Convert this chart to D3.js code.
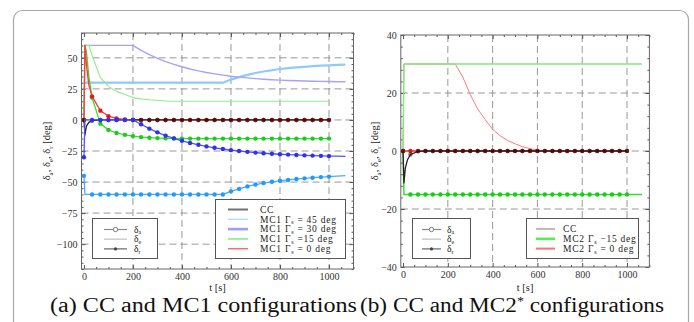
<!DOCTYPE html>
<html><head><meta charset="utf-8">
<script src="https://cdn.jsdelivr.net/npm/d3@7"></script>
<style>
html,body{margin:0;padding:0;background:#fff;}
svg{display:block;}
text{font-family:"Liberation Serif","DejaVu Serif",serif;}
</style></head><body>
<svg id="fig" width="694" height="322"></svg>
<script>
// sample times [s]
const time = [0,4,10,20,33,67,100,133,167,200,233,267,300,333,367,400,433,467,500,533,567,600,633,667,700,733,767,800,833,867,900,933,967,1000,1033,1067];

// panel (a): CC and MC1
const ccA      = [0,-12,-5,-2,-0.6,0,0,0,0,0, 0,0,0,0,0,0,0,0,0,0, 0,0,0,0,0,0,0,0,0,0, 0,0,0,0,null,null];
const mc1g45E  = [30,30,30,30,30,30,30,30,30,30, 30,30,30,30,30,30,30,30,30,30, 30,32.5,34.5,36.3,37.8,39,40,41,41.7,42.3, 42.8,43.3,43.7,44,44.3,44.6];
const mc1g45R  = [-45,-60,-60,-60,-60,-60,-60,-60,-60,-60, -60,-60,-60,-60,-60,-60,-60,-60,-60,-60, -60,-57.5,-55.5,-53.5,-52,-50.8,-49.8,-49,-48.3,-47.6, -47,-46.5,-46,-45.6,-45.2,-44.8];
const mc1g30E  = [60,60,60,60,60,60,60,60,60,60, 56,52.5,49.5,47,44.8,42.8,41,39.5,38.2,37.1, 36.1,35.2,34.5,33.9,33.3,32.8,32.4,32.1,31.8,31.6, 31.4,31.2,31.05,30.9,30.8,30.7];
const mc1g30R  = [-30,0,0,0,0,0,0,0,0,0, -3.5,-7,-10,-12.6,-14.8,-16.8,-18.5,-20,-21.3,-22.4, -23.4,-24.3,-25,-25.7,-26.3,-26.8,-27.2,-27.6,-27.9,-28.2, -28.5,-28.7,-28.9,-29.1,-29.2,-29.3];
const mc1g15E  = [0,60,60,60,52,34,27,23,20.5,18, 17,16.2,15.6,15.3,15.1,15,15,15,15,15, 15,15,15,15,15,15,15,15,15,15, 15,15,15,15,null,null];
const mc1g15R  = [0,60,55,35,18,-3,-8,-10.5,-12,-13, -13.8,-14.3,-14.6,-14.8,-14.9,-15,-15,-15,-15,-15, -15,-15,-15,-15,-15,-15,-15,-15,-15,-15, -15,-15,-15,-15,null,null];
const mc1g0R   = [0,60,45,28,19,7.5,3,1.2,0.5,0.2, 0.05,0,0,0,0,0,0,0,0,0, 0,0,0,0,0,0,0,0,0,0, 0,0,0,0,null,null];

// panel (b): CC and MC2*
const ccB      = [0,-11,-6,-3,-1.2,-0.1,0,0,0,0, 0,0,0,0,0,0,0,0,0,0, 0,0,0,0,0,0,0,0,0,0, 0,0,0,0,null,null];
const mc2g15E  = [0,30,30,30,30,30,30,30,30,30, 30,30,30,30,30,30,30,30,30,30, 30,30,30,30,30,30,30,30,30,30, 30,30,30,30,30,30];
const mc2g15R  = [0,-15,-15,-15,-15,-15,-15,-15,-15,-15, -15,-15,-15,-15,-15,-15,-15,-15,-15,-15, -15,-15,-15,-15,-15,-15,-15,-15,-15,-15, -15,-15,-15,-15,-15,-15];
const mc2g0E   = [0,30,30,30,30,30,30,30,30,30, 30,25.5,19.5,14.5,10.8,7.5,5.3,3.6,2.5,1.5, 0.8,0.3,0.1,0,0,0,0,0,0,0, 0,0,0,0,null,null];
const mc2g0R   = [0,0,0,0,0,0,0,0,0,0, 0,0,0,0,0,0,0,0,0,0, 0,0,0,0,0,0,0,0,0,0, 0,0,0,0,null,null];

// axis ticks
const xTicks = [0,200,400,600,800,1000];
const yTicksA = [50,25,0,-25,-50,-75,-100];
const yTicksB = [40,20,0,-20,-40];

// legend labels
const deltaLabels = ["a","e","r"];
const legendA = [["CC"],["MC1 Γ","s"," = 45 deg"],["MC1 Γ","s"," = 30 deg"],["MC1 Γ","s"," =15 deg"],["MC1 Γ","s"," = 0 deg"]];
const legendB = [["CC"],["MC2 Γ","s"," −15 deg"],["MC2 Γ","s"," = 0 deg"]];

const svg = d3.select("#fig");

// card outline
svg.append("rect").attr("x",13.5).attr("y",10.5).attr("width",675).attr("height",340)
  .attr("rx",9).attr("fill","none").attr("stroke","#a9a9a9").attr("stroke-width",1.2);

// text with a lowered subscript after the main part
function subText(sel, main, sub, rest, subSize, shift) {
  sel.append("tspan").text(main);
  sel.append("tspan").attr("dy",shift).style("font-size",subSize).text(sub);
  sel.append("tspan").attr("dy",-shift).text(rest);
}

function drawPanel(p, id) {
  const g = svg.append("g");
  const x = d3.scaleLinear().domain([-10,1100]).range([p.left,p.right]);
  const y = d3.scaleLinear().domain(p.yDomain).range([p.bottom,p.top]);

  g.append("clipPath").attr("id",id).append("rect")
    .attr("x",p.left).attr("y",p.top).attr("width",p.right-p.left).attr("height",p.bottom-p.top);

  // dashed grid
  const grid = g.append("g").attr("stroke","#8c8c8c").attr("stroke-width",0.9).attr("stroke-dasharray","7,4");
  grid.selectAll(".gx").data(xTicks.filter(v=>v>0)).join("line")
    .attr("x1",d=>x(d)).attr("x2",d=>x(d)).attr("y1",p.top).attr("y2",p.bottom);
  grid.selectAll(".gy").data(p.yTicks.filter(v=>v>p.yDomain[0]&&v<p.yDomain[1])).join("line")
    .attr("x1",p.left).attr("x2",p.right).attr("y1",d=>y(d)).attr("y2",d=>y(d));

  // axes, ticks pointing inwards on all four sides
  const xMinor = d3.range(0,1101,50).filter(v=>!xTicks.includes(v));
  const yMinor = d3.range(p.yDomain[0],p.yDomain[1]+0.001,p.yMinorStep).filter(v=>!p.yTicks.includes(v));
  const axes = [
    [d3.axisBottom, x, `translate(0,${p.bottom})`, true],
    [d3.axisTop, x, `translate(0,${p.top})`, false],
    [d3.axisLeft, y, `translate(${p.left},0)`, true],
    [d3.axisRight, y, `translate(${p.right},0)`, false]
  ];
  axes.forEach(([ax, sc, tr, labelled]) => {
    const isX = sc === x;
    const major = ax(sc).tickValues(isX ? xTicks : p.yTicks).tickSize(-4).tickPadding(4)
      .tickFormat(labelled ? d3.format("d") : "");
    const minor = ax(sc).tickValues(isX ? xMinor : yMinor).tickSize(-2).tickFormat("");
    const a1 = g.append("g").attr("transform",tr).call(major);
    const a2 = g.append("g").attr("transform",tr).call(minor);
    [a1,a2].forEach(a => { a.select(".domain").remove(); a.selectAll("line").attr("stroke","#555"); });
    a1.attr("font-family",null);
    a1.selectAll("text").attr("fill","#333").style("font-size","10px");
  });

  g.append("rect").attr("x",p.left).attr("y",p.top).attr("width",p.right-p.left).attr("height",p.bottom-p.top)
    .attr("fill","none").attr("stroke","#666").attr("stroke-width",1);

  // curves
  const plot = g.append("g").attr("clip-path",`url(#${id})`);
  p.series.forEach(s => {
    const pts = time.map((t,i)=>[t,s.v[i]]);
    const line = d3.line().defined(d=>d[1]!==null).x(d=>x(d[0])).y(d=>y(d[1]));
    plot.append("path").attr("d",line(pts)).attr("fill","none")
      .attr("stroke",s.c).attr("stroke-width",s.w).attr("stroke-linejoin","round");
    if (s.mark) {
      plot.append("g").selectAll("circle")
        .data(pts.filter((d,i)=>d[1]!==null && d[0]<=1000 && (i===0 || i>=4)))
        .join("circle").attr("cx",d=>x(d[0])).attr("cy",d=>y(d[1])).attr("r",2.2)
        .attr("fill",s.m).attr("fill-opacity",s.mo||1);
    }
  });

  // axis titles
  g.append("text").attr("x",(p.left+p.right)/2).attr("y",291).attr("text-anchor","middle")
    .style("font-size","10.5px").attr("fill","#222").text("t [s]");
  const yl = g.append("text").attr("transform",`translate(${p.yLabelX},${(p.top+p.bottom)/2}) rotate(-90)`)
    .attr("text-anchor","middle").style("font-size","10.5px").attr("fill","#222");
  deltaLabels.forEach((k,i)=> subText(yl, "δ", k, i<2 ? ", " : " [deg]", "7px", 2.5));

  // δ legend
  const d = p.deltaBox;
  const lg = g.append("g");
  lg.append("rect").attr("x",d.x).attr("y",d.y).attr("width",d.w).attr("height",d.h)
    .attr("fill","#fff").attr("stroke","#555").attr("stroke-width",1);
  const dStyles = [{c:"#8a8a8a",w:1.2,m:"open"},{c:"#cfcfcf",w:1.6,m:null},{c:"#666",w:1.2,m:"dot"}];
  deltaLabels.forEach((k,i)=>{
    const yy = d.y + 11 + i*9.7;
    lg.append("line").attr("x1",d.lx0).attr("x2",d.lx1).attr("y1",yy).attr("y2",yy)
      .attr("stroke",dStyles[i].c).attr("stroke-width",dStyles[i].w);
    const mx = (d.lx0+d.lx1)/2;
    if (dStyles[i].m==="open") lg.append("circle").attr("cx",mx).attr("cy",yy).attr("r",2.2).attr("fill","#fff").attr("stroke","#777");
    if (dStyles[i].m==="dot") lg.append("circle").attr("cx",mx).attr("cy",yy).attr("r",1.6).attr("fill","#444");
    const t = lg.append("text").attr("x",d.tx).attr("y",yy+3).style("font-size","9.5px").attr("fill","#222");
    subText(t, "δ", k, "", "6px", 1.8);
  });

  // configuration legend
  const c = p.cfgBox;
  const cg = g.append("g");
  cg.append("rect").attr("x",c.x).attr("y",c.y).attr("width",c.w).attr("height",c.h)
    .attr("fill","#fff").attr("stroke","#555").attr("stroke-width",1);
  p.legend.forEach((lab,i)=>{
    const yy = c.y + c.first + i*9.8;
    const st = p.legendStyle[i];
    cg.append("line").attr("x1",c.lx0).attr("x2",c.lx1).attr("y1",yy).attr("y2",yy)
      .attr("stroke",st.c).attr("stroke-width",st.w);
    const t = cg.append("text").attr("x",c.tx).attr("y",yy+3.2).style("font-size","9.5px")
      .style("letter-spacing","0.75px").attr("fill","#222");
    if (lab.length>1) subText(t, lab[0], lab[1], lab[2], "6px", 1.8);
    else t.text(lab[0]);
  });
}

drawPanel({
  left:81.5, right:353.5, top:33, bottom:269, yDomain:[-120,70], yTicks:yTicksA, yMinorStep:5, yLabelX:50,
  series:[
    {v:mc1g45E, c:"#8fcaf8", w:2.2},
    {v:mc1g30E, c:"#a3a3ff", w:1.4},
    {v:mc1g15E, c:"#8fec8f", w:1.1},
    {v:mc1g45R, c:"#45acff", w:1.3, mark:true, m:"#1f9bff"},
    {v:mc1g15R, c:"#33dd33", w:1.3, mark:true, m:"#1ccc1c"},
    {v:mc1g0R,  c:"#ff3a3a", w:1.3, mark:true, m:"#d42020"},
    {v:ccA,     c:"#222",    w:1.3, mark:true, m:"#2a0808", mo:0.55},
    {v:mc1g30R, c:"#5050ff", w:1.3, mark:true, m:"#3030ee"}
  ],
  deltaBox:{x:92.5,y:218.5,w:65,h:40,lx0:104,lx1:127,tx:134},
  cfgBox:{x:215.5,y:199.5,w:130,h:59,first:10,lx0:228,lx1:248,tx:260},
  legend:legendA,
  legendStyle:[{c:"#707070",w:2},{c:"#a8d8ff",w:1.2},{c:"#9c9cff",w:2.6},{c:"#9cee9c",w:2},{c:"#ff6a6a",w:1.5}]
},"clipA");

drawPanel({
  left:400.8, right:649.4, top:35, bottom:267, yDomain:[-40,40], yTicks:yTicksB, yMinorStep:4, yLabelX:378,
  series:[
    {v:mc2g0E,  c:"#ff7a7a", w:1.0},
    {v:mc2g15E, c:"#7ded7d", w:1.4},
    {v:mc2g15R, c:"#33dd33", w:1.5, mark:true, m:"#18cc18"},
    {v:mc2g0R,  c:"#ff3a3a", w:1.3, mark:true, m:"#d42020"},
    {v:ccB,     c:"#222",    w:1.3, mark:true, m:"#2a0808", mo:0.55}
  ],
  deltaBox:{x:412.5,y:218.5,w:58,h:40,lx0:422,lx1:441,tx:447},
  cfgBox:{x:526.5,y:218.5,w:112,h:40,first:10.5,lx0:536,lx1:555,tx:563},
  legend:legendB,
  legendStyle:[{c:"#bcbcbc",w:2},{c:"#55ee55",w:2.6},{c:"#ff7070",w:2}]
},"clipB");

// sub-figure captions
svg.append("text").attr("x",50).attr("y",312).style("font-size","20px").attr("fill","#111")
  .attr("textLength",307).attr("lengthAdjust","spacingAndGlyphs").text("(a) CC and MC1 configurations");
const capB = svg.append("text").attr("x",360).attr("y",312).style("font-size","20px").attr("fill","#111")
  .attr("textLength",304).attr("lengthAdjust","spacingAndGlyphs");
capB.append("tspan").text("(b) CC and MC2");
capB.append("tspan").attr("dy",-7).style("font-size","12px").text("*");
capB.append("tspan").attr("dy",7).text(" configurations");
</script>
</body></html>
